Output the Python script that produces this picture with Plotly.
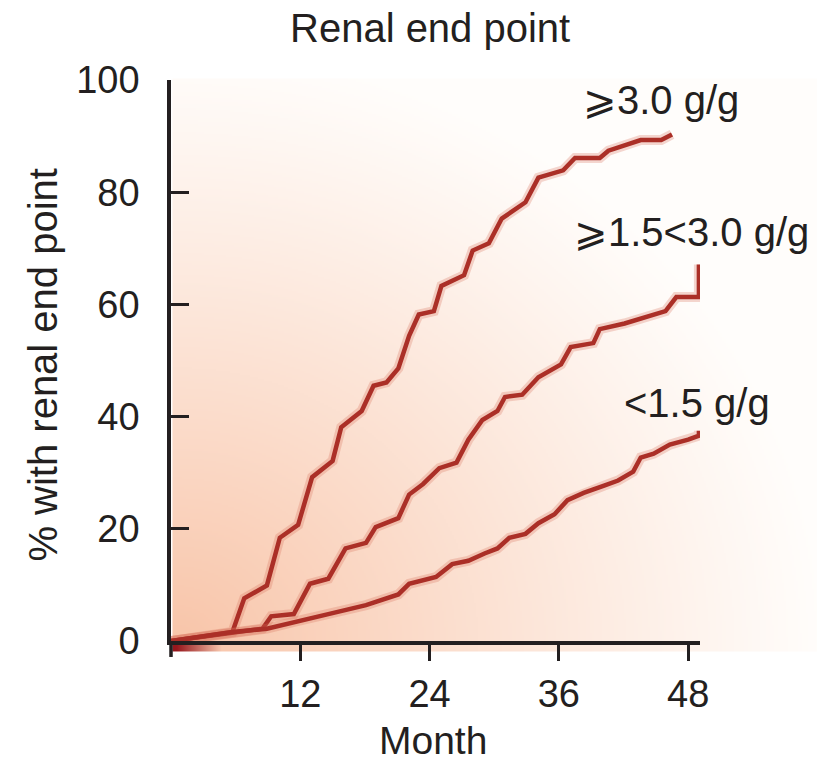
import base64, struct, zlib, math
import plotly.graph_objects as go

# ---------------- data ----------------
months_high = [0, 3, 5.7, 6.8, 8.9, 10.1, 11.8, 13.1, 15.0, 15.8, 17.7, 18.8, 20.0, 21.1, 22.1, 23.0,
               24.4, 25.1, 27.2, 28.0, 29.5, 30.7, 32.9, 34.1, 36.4, 37.5, 39.8, 40.6, 42.5, 43.6, 45.5, 46.5]
pct_high = [0, 0.8, 1.6, 7.6, 9.9, 18.4, 20.7, 29.2, 32.1, 38.1, 41.0, 45.5, 46.1, 48.6, 54.4, 58.2,
            58.8, 63.3, 65.2, 69.6, 70.9, 75.3, 78.2, 82.6, 83.9, 86.1, 86.1, 87.4, 88.7, 89.3, 89.3, 90.3]

months_mid = [0, 3, 5.7, 8.5, 9.3, 11.4, 12.9, 14.6, 16.2, 18.1, 19.0, 21.1, 22.1, 23.4, 24.9, 26.5,
              27.6, 28.9, 30.3, 31.0, 32.6, 34.1, 36.2, 37.1, 39.2, 39.8, 42.1, 44.4, 45.9, 46.9, 49.0, 49.0]
pct_mid = [0, 0.8, 1.6, 2.2, 4.4, 4.8, 10.2, 11.1, 16.5, 17.5, 20.3, 21.9, 26.1, 28.0, 30.8, 31.8,
           35.9, 39.4, 41.0, 43.5, 43.9, 47.0, 49.3, 52.4, 53.1, 55.6, 56.6, 57.9, 58.8, 61.3, 61.3, 67.1]

months_low = [0, 3, 5.7, 8.9, 11.6, 14.6, 18.1, 21.1, 22.1, 24.6, 26.1, 27.6, 29.1, 30.3, 31.4, 32.9,
              34.1, 35.6, 36.8, 38.3, 40.2, 41.5, 42.9, 43.6, 44.8, 46.3, 48.0, 49.0, 49.0]
pct_low = [0, 0.8, 1.6, 2.2, 3.5, 4.8, 6.4, 8.3, 10.2, 11.4, 13.7, 14.3, 15.6, 16.5, 18.4, 19.1,
           21.0, 22.6, 25.1, 26.4, 27.7, 28.6, 30.2, 32.7, 33.4, 35.0, 35.9, 36.6, 37.5]

series_labels = ["⩾3.0 g/g", "⩾1.5<3.0 g/g", "<1.5 g/g"]
label_pos_x = [45.5, 48.3, 48.8]
label_pos_y = [96.4, 72.9, 42.4]
x_ticks = [12, 24, 36, 48]
y_ticks = [0, 20, 40, 60, 80, 100]

# ---------------- layout geometry (px) ----------------
W, H = 817, 764
L, R = 170.5, 700.0
T, B = 79.5, 641.5

# ---------------- background gradient image ----------------
def make_png(w, h, rows):
    raw = b"".join(b"\x00" + bytes(r) for r in rows)
    def chunk(t, d):
        c = struct.pack(">I", len(d)) + t + d
        return c + struct.pack(">I", zlib.crc32(t + d) & 0xffffffff)
    return (b"\x89PNG\r\n\x1a\n" + chunk(b"IHDR", struct.pack(">IIBBBBB", w, h, 8, 2, 0, 0, 0))
            + chunk(b"IDAT", zlib.compress(raw, 9)) + chunk(b"IEND", b""))

gx0, gx1, gy0, gy1 = 172, 817, 78, 652
S = 2
gw, gh = (gx1 - gx0) // S, (gy1 - gy0) // S
peach = (248, 196, 168)
white = (255, 253, 251)
red = (150, 22, 28)
rows = []
for j in range(gh):
    Y = gy0 + j * S
    row = []
    for i in range(gw):
        X = gx0 + i * S
        dx = (X - 172) / 650.0
        dy = (648 - Y) / 600.0
        r = math.sqrt(dx * dx + dy * dy)
        t = max(0.0, 1.0 - r) ** 1.1
        c = [white[k] * (1 - t) + peach[k] * t for k in range(3)]
        if Y >= 643 and X < 222:
            s = min(1.0, max(0.0, (X - 175) / 45.0))
            c = [red[k] * (1 - s) + c[k] * s for k in range(3)]
        row.extend(int(round(v)) for v in c)
    rows.append(row)
img_uri = "data:image/png;base64," + base64.b64encode(make_png(gw, gh, rows)).decode()

pw, ph = R - L, B - T

fig = go.Figure()
line_col = "#ab2f27"
for mx, py in [(months_high, pct_high), (months_mid, pct_mid), (months_low, pct_low)]:
    fig.add_trace(go.Scatter(x=mx, y=py, mode="lines",
                             line=dict(color="rgba(215,110,90,0.28)", width=10),
                             hoverinfo="skip", cliponaxis=False))
    fig.add_trace(go.Scatter(x=mx, y=py, mode="lines",
                             line=dict(color=line_col, width=4.5), cliponaxis=False))

txt = "#231f20"
font = "Liberation Sans, Arial, sans-serif"
for lab, lx, ly in zip(series_labels, label_pos_x, label_pos_y):
    fig.add_annotation(x=lx, y=ly, xref="x", yref="y", text=lab, showarrow=False,
                       font=dict(family=font, size=40, color=txt), xanchor="center", yanchor="middle")

fig.add_annotation(x=(430 - L) / pw, y=(B - 27) / ph, xref="paper", yref="paper", text="Renal end point",
                   showarrow=False, font=dict(family=font, size=40, color=txt),
                   xanchor="center", yanchor="middle")
fig.add_annotation(x=(433 - L) / pw, y=(B - 741) / ph, xref="paper", yref="paper", text="Month",
                   showarrow=False, font=dict(family=font, size=39, color=txt),
                   xanchor="center", yanchor="middle")
fig.add_annotation(x=(42 - L) / pw, y=(B - 365) / ph, xref="paper", yref="paper",
                   text="% with renal end point", textangle=-90,
                   showarrow=False, font=dict(family=font, size=40, color=txt),
                   xanchor="center", yanchor="middle")

fig.add_layout_image(dict(source=img_uri, xref="paper", yref="paper",
                          x=(gx0 - L) / pw, y=(B - gy0) / ph,
                          sizex=(gx1 - gx0) / pw, sizey=(gy1 - gy0) / ph,
                          xanchor="left", yanchor="top", sizing="stretch", layer="below"))

# y-axis line extension below x-axis
fig.add_shape(type="line", xref="paper", yref="paper", x0=0, x1=0, y0=0, y1=-16 / ph,
              line=dict(color=txt, width=3.5))

fig.update_layout(
    width=W, height=H,
    margin=dict(l=L, r=W - R, t=T, b=H - B, pad=0),
    paper_bgcolor="white", plot_bgcolor="rgba(0,0,0,0)",
    showlegend=False,
    xaxis=dict(range=[0, 49.1], tickvals=x_ticks, ticks="outside", ticklen=16, tickwidth=3,
               tickcolor=txt, showline=True, linecolor=txt, linewidth=3.5, showgrid=False,
               zeroline=False, tickfont=dict(family=font, size=38, color=txt),
               ticklabelstandoff=1, fixedrange=True),
    yaxis=dict(range=[0, 100], tickvals=y_ticks, ticks="inside", ticklen=18, tickwidth=3,
               tickcolor=txt, showline=True, linecolor=txt, linewidth=3.5, showgrid=False,
               zeroline=False, tickfont=dict(family=font, size=38, color=txt),
               ticklabelstandoff=20, fixedrange=True),
)

fig.write_html("out.html")
